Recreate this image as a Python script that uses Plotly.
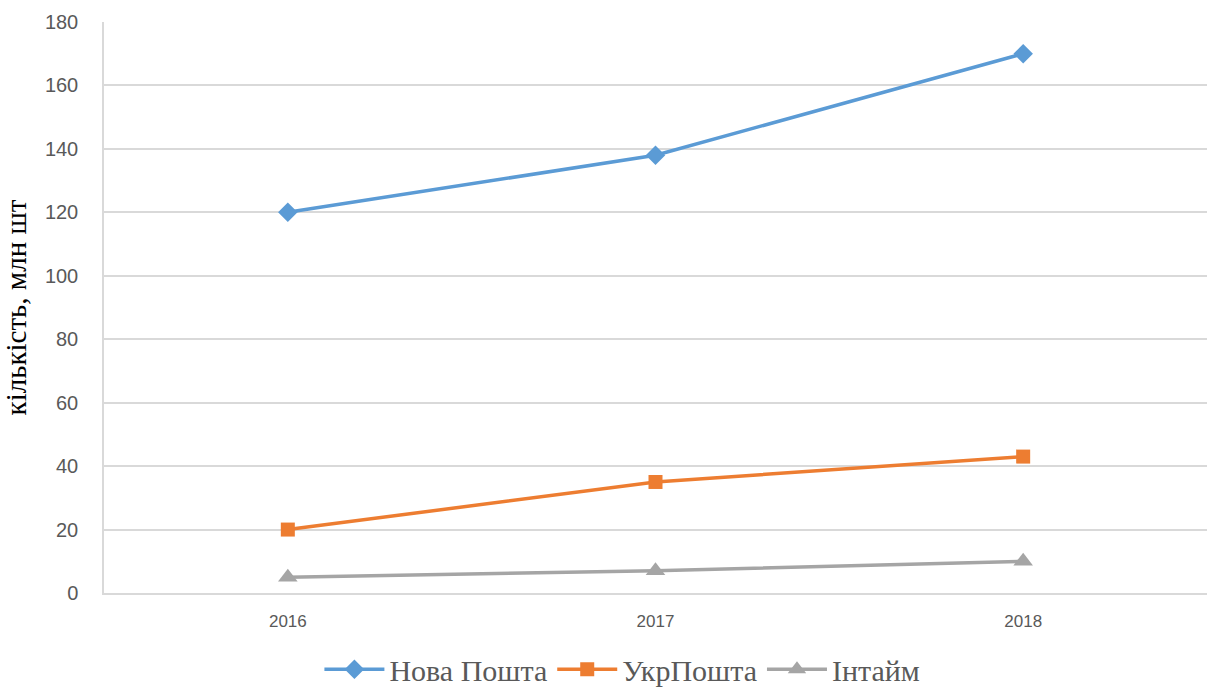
import plotly.graph_objects as go

years = ["2016", "2017", "2018"]
nova = [120, 138, 170]
ukr = [20, 35, 43]
intime = [5, 7, 10]
names = ["Нова Пошта", "УкрПошта", "Інтайм"]
colors = ["#5b9bd5", "#ed7d31", "#a5a5a5"]
symbols = ["diamond", "square", "triangle-up"]
y_ticks = [0, 20, 40, 60, 80, 100, 120, 140, 160, 180]

fig = go.Figure()
for name, vals, col, sym in zip(names, [nova, ukr, intime], colors, symbols):
    fig.add_trace(go.Scatter(
        x=years, y=vals, name=name, mode="lines+markers",
        line=dict(color=col, width=3.5),
        marker=dict(symbol=sym, size={"diamond": 15, "square": 14, "triangle-up": 17}[sym], color=col),
    ))

fig.update_layout(
    width=1215, height=693,
    margin=dict(l=104, r=8, t=22, b=100, autoexpand=False),
    plot_bgcolor="white", paper_bgcolor="white",
    showlegend=True,
    legend=dict(orientation="h", x=0.47, xanchor="center", y=-0.088, yanchor="top",
                font=dict(family="Liberation Serif", size=30, color="#595959"),
                itemwidth=60, tracegroupgap=0),
    xaxis=dict(type="category", range=[-0.5, 2.5], showgrid=False, automargin=False,
               showline=True, linecolor="#d9d9d9", linewidth=1.5,
               tickfont=dict(family="Liberation Sans", size=17, color="#595959"),
               ticks="", ticklabelstandoff=12),
    yaxis=dict(range=[0, 180], tickvals=y_ticks, showgrid=True, gridcolor="#d9d9d9",
               gridwidth=1.5, showline=True, linecolor="#d9d9d9", linewidth=1.5,
               zeroline=False, ticks="", automargin=False, ticklabelstandoff=20,
               tickfont=dict(family="Liberation Sans", size=20, color="#595959"),
               title=dict(text="кількість, млн шт",
                          font=dict(family="Liberation Serif", size=29, color="#000000"),
                          standoff=16)),
)

fig.write_html("out.html")
